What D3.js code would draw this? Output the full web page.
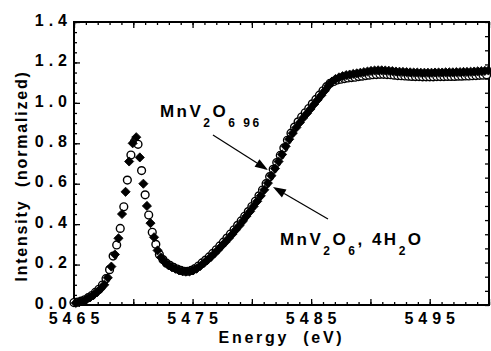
<!DOCTYPE html>
<html>
<head>
<meta charset="utf-8">
<script src="https://cdn.jsdelivr.net/npm/d3@7"></script>
<style>
  body { margin: 0; background: #fff; }
  text { font-family: "Liberation Sans", Arial, Helvetica, sans-serif; font-weight: bold; fill: #000; }
</style>
</head>
<body>
<div id="chart"></div>
<script>
// MnV2O6 (open circles)
var mnvE = [5465.0,5465.3,5465.6,5465.9,5466.2,5466.5,5466.8,5467.1,5467.4,5467.7,
            5468.0,5468.3,5468.6,5468.9,5469.2,5469.5,5469.8,5470.1,5470.4,5470.7,
            5471.0,5471.3,5471.6,5471.9,5472.2,5472.5,5472.8,5473.1,5473.4,5473.7,
            5474.0,5474.3,5474.6,5474.9,5475.2,5475.5,5475.8,5476.1,5476.4,5476.7,
            5477.0,5477.3,5477.6,5477.9,5478.2,5478.5,5478.8,5479.1,5479.4,5479.7,
            5480.0,5480.3,5480.6,5480.9,5481.2,5481.5,5481.8,5482.1,5482.4,5482.7,
            5483.0,5483.3,5483.6,5483.9,5484.2,5484.5,5484.8,5485.1,5485.4,5485.7,
            5486.0,5486.3,5486.6,5486.9,5487.2,5487.5,5487.8,5488.1,5488.4,5488.7,
            5489.0,5489.3,5489.6,5489.9,5490.2,5490.5,5490.8,5491.1,5491.4,5491.7,
            5492.0,5492.3,5492.6,5492.9,5493.2,5493.5,5493.8,5494.1,5494.4,5494.7,
            5495.0,5495.3,5495.6,5495.9,5496.2,5496.5,5496.8,5497.1,5497.4,5497.7,
            5498.0,5498.3,5498.6,5498.9,5499.2,5499.5,5499.8];
var mnvI = [0.012,0.014,0.019,0.026,0.036,0.047,0.062,0.078,0.099,0.130,
            0.175,0.242,0.297,0.379,0.486,0.618,0.742,0.808,0.795,0.665,
            0.545,0.445,0.360,0.300,0.250,0.225,0.207,0.196,0.186,0.178,
            0.171,0.167,0.167,0.171,0.180,0.193,0.208,0.222,0.238,0.255,
            0.273,0.292,0.311,0.331,0.351,0.372,0.394,0.416,0.439,0.462,
            0.487,0.513,0.540,0.569,0.600,0.635,0.671,0.705,0.740,0.777,
            0.815,0.850,0.880,0.906,0.930,0.951,0.972,0.995,1.017,1.038,
            1.060,1.080,1.097,1.106,1.113,1.117,1.120,1.123,1.125,1.127,
            1.130,1.132,1.135,1.137,1.139,1.140,1.141,1.141,1.140,1.139,
            1.137,1.135,1.134,1.133,1.132,1.131,1.130,1.130,1.129,1.129,
            1.129,1.129,1.130,1.130,1.130,1.131,1.131,1.131,1.132,1.132,
            1.133,1.133,1.134,1.135,1.136,1.137,1.139];

// MnV2O6, 4H2O (filled diamonds)
var hydE = [5465.15,5465.45,5465.75,5466.05,5466.35,5466.65,5466.95,5467.25,5467.55,5467.85,
            5468.15,5468.45,5468.75,5469.05,5469.35,5469.65,5469.95,5470.25,5470.55,5470.85,
            5471.15,5471.45,5471.75,5472.05,5472.35,5472.65,5472.95,5473.25,5473.55,5473.85,
            5474.15,5474.45,5474.75,5475.05,5475.35,5475.65,5475.95,5476.25,5476.55,5476.85,
            5477.15,5477.45,5477.75,5478.05,5478.35,5478.65,5478.95,5479.25,5479.55,5479.85,
            5480.15,5480.45,5480.75,5481.05,5481.35,5481.65,5481.95,5482.25,5482.55,5482.85,
            5483.15,5483.45,5483.75,5484.05,5484.35,5484.65,5484.95,5485.25,5485.55,5485.85,
            5486.15,5486.45,5486.75,5487.05,5487.35,5487.65,5487.95,5488.25,5488.55,5488.85,
            5489.15,5489.45,5489.75,5490.05,5490.35,5490.65,5490.95,5491.25,5491.55,5491.85,
            5492.15,5492.45,5492.75,5493.05,5493.35,5493.65,5493.95,5494.25,5494.55,5494.85,
            5495.15,5495.45,5495.75,5496.05,5496.35,5496.65,5496.95,5497.25,5497.55,5497.85,
            5498.15,5498.45,5498.75,5499.05,5499.35,5499.65,5499.95];
var hydI = [0.010,0.014,0.020,0.028,0.038,0.050,0.064,0.080,0.100,0.135,
            0.190,0.250,0.330,0.450,0.560,0.710,0.800,0.830,0.730,0.600,
            0.490,0.405,0.335,0.270,0.235,0.212,0.198,0.188,0.180,0.172,
            0.167,0.165,0.166,0.171,0.180,0.193,0.207,0.222,0.238,0.255,
            0.273,0.292,0.310,0.330,0.350,0.372,0.393,0.416,0.440,0.463,
            0.488,0.513,0.540,0.570,0.603,0.640,0.675,0.710,0.745,0.785,
            0.820,0.850,0.878,0.903,0.927,0.948,0.970,0.993,1.015,1.037,
            1.060,1.085,1.105,1.118,1.126,1.132,1.137,1.140,1.143,1.146,
            1.149,1.152,1.155,1.158,1.160,1.161,1.161,1.160,1.159,1.157,
            1.155,1.154,1.153,1.152,1.151,1.150,1.150,1.149,1.149,1.149,
            1.149,1.150,1.150,1.150,1.151,1.151,1.151,1.152,1.152,1.153,
            1.153,1.154,1.155,1.156,1.157,1.158,1.160];

var xLabelTicks = [5465, 5475, 5485, 5495];
var yLabelTicks = [0, 0.2, 0.4, 0.6, 0.8, 1.0, 1.2, 1.4];

// Set the dimensions and margins
var margin = {top: 22, right: 2, bottom: 46, left: 74},
    width = 491 - margin.left - margin.right,
    height = 351 - margin.top - margin.bottom;

var svg = d3.select("#chart").append("svg")
    .attr("width", width + margin.left + margin.right)
    .attr("height", height + margin.top + margin.bottom)
  .append("g")
    .attr("transform", "translate(" + margin.left + "," + margin.top + ")");

var x = d3.scaleLinear().domain([5465, 5500]).range([0, width]);
var y = d3.scaleLinear().domain([0, 1.4]).range([height, 0]);

var minorX = d3.range(5465, 5501, 1),
    majorX = d3.range(5465, 5501, 5),
    minorY = d3.range(0, 1.401, 0.05),
    majorY = yLabelTicks,
    rightY = d3.range(0, 1.401, 0.07);

function styleAxis(g) {
    g.select(".domain").remove();
    g.selectAll("line").attr("stroke", "#000").attr("stroke-width", 1.3);
    g.selectAll("text").style("font-size", "16px").style("letter-spacing", "5px");
}

// bottom
svg.append("g").attr("transform", "translate(0," + height + ")")
    .call(d3.axisBottom(x).tickValues(minorX).tickSize(-3).tickFormat(""))
    .call(styleAxis);
svg.append("g").attr("transform", "translate(0," + height + ")")
    .call(d3.axisBottom(x).tickValues(majorX).tickSize(-6).tickPadding(8)
        .tickFormat(d => xLabelTicks.indexOf(d) >= 0 ? d : ""))
    .call(styleAxis)
    .selectAll("text").attr("dx", "2px");
// top
svg.append("g")
    .call(d3.axisTop(x).tickValues(minorX).tickSize(-3).tickFormat(""))
    .call(styleAxis);
svg.append("g")
    .call(d3.axisTop(x).tickValues(majorX).tickSize(-6).tickFormat(""))
    .call(styleAxis);
// left
svg.append("g")
    .call(d3.axisLeft(y).tickValues(minorY).tickSize(-3).tickFormat(""))
    .call(styleAxis);
svg.append("g")
    .call(d3.axisLeft(y).tickValues(majorY).tickSize(-6).tickPadding(2).tickFormat(d3.format(".1f")))
    .call(styleAxis)
    .selectAll("text").attr("dy", "0.2em");
// right
svg.append("g").attr("transform", "translate(" + width + ",0)")
    .call(d3.axisRight(y).tickValues(rightY).tickSize(-4).tickFormat(""))
    .call(styleAxis);

// frame
svg.append("rect")
    .attr("width", width).attr("height", height)
    .attr("fill", "none").attr("stroke", "#000").attr("stroke-width", 2);

// open circles
svg.append("g").selectAll("circle")
    .data(d3.zip(mnvE, mnvI))
  .enter().append("circle")
    .attr("cx", d => x(d[0]))
    .attr("cy", d => y(d[1]))
    .attr("r", 3.9)
    .attr("fill", "#fff")
    .attr("stroke", "#000")
    .attr("stroke-width", 1.4);

// filled diamonds
var diamond = d3.symbol().type(d3.symbolSquare).size(42);
svg.append("g").selectAll("path")
    .data(d3.zip(hydE, hydI))
  .enter().append("path")
    .attr("d", diamond)
    .attr("transform", d => "translate(" + x(d[0]) + "," + y(d[1]) + ") rotate(45)")
    .attr("fill", "#000")
    .attr("stroke", "#000")
    .attr("stroke-width", 0.8);

// axis titles
svg.append("text")
    .attr("x", width / 2)
    .attr("y", height + 38)
    .attr("text-anchor", "middle")
    .style("font-size", "16px")
    .style("letter-spacing", "2.7px")
    .style("white-space", "pre")
    .text("Energy  (eV)");

svg.append("text")
    .attr("transform", "translate(" + (27 - margin.left) + "," + (176 - margin.top) + ") rotate(-90)")
    .attr("text-anchor", "middle")
    .style("font-size", "16px")
    .style("letter-spacing", "1.8px")
    .style("white-space", "pre")
    .text("Intensity  (normalized)");

// annotations
function label(e, v, parts) {
    var t = svg.append("text")
        .attr("x", x(e)).attr("y", y(v))
        .style("font-size", "17px")
        .style("letter-spacing", "2.5px")
        .style("white-space", "pre");
    var shift = 0;
    parts.forEach(function(p) {
        var sub = p[1];
        var dy = (sub ? 10 : 0) - shift;
        shift = sub ? 10 : 0;
        t.append("tspan")
            .attr("dy", dy)
            .style("font-size", sub ? "12px" : "17px")
            .text(p[0]);
    });
}
label(5472.25, 0.93, [["MnV", 0], ["2", 1], ["O", 0], ["6 96", 1]]);
label(5482.37, 0.297, [["MnV", 0], ["2", 1], ["O", 0], ["6", 1], [", 4H", 0], ["2", 1], ["O", 0]]);

function arrow(e0, v0, e1, v1) {
    var x0 = x(e0), y0 = y(v0), x1 = x(e1), y1 = y(v1);
    var a = Math.atan2(y1 - y0, x1 - x0), L = 13, W = 4.5;
    var bx = x1 - L * Math.cos(a), by = y1 - L * Math.sin(a);
    svg.append("line")
        .attr("x1", x0).attr("y1", y0).attr("x2", bx).attr("y2", by)
        .attr("stroke", "#000").attr("stroke-width", 1.2);
    svg.append("path")
        .attr("d", "M" + x1 + "," + y1 +
             "L" + (bx - W * Math.sin(a)) + "," + (by + W * Math.cos(a)) +
             "L" + (bx + W * Math.sin(a)) + "," + (by - W * Math.cos(a)) + "Z")
        .attr("fill", "#000");
}
arrow(5476.72, 0.841, 5481.36, 0.668);
arrow(5486.42, 0.425, 5481.78, 0.584);
</script>
</body>
</html>
